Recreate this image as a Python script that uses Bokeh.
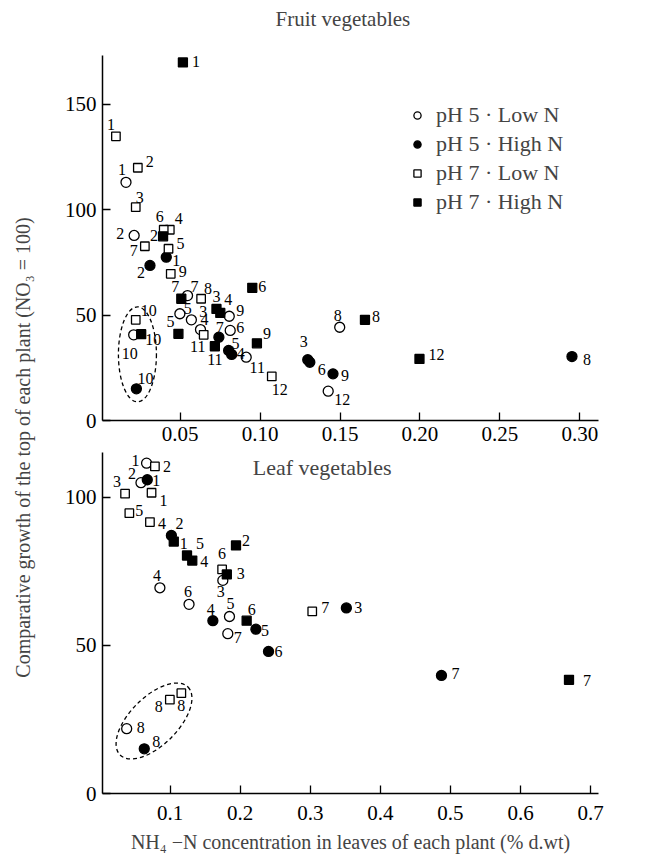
import numpy as np
from bokeh.plotting import figure
from bokeh.models import Range1d, FixedTicker, PrintfTickFormatter, Legend, LegendItem, Label
from bokeh.layouts import row, column
from bokeh.embed import file_html
from bokeh.resources import INLINE
from bokeh.core.properties import value

FONT = "Liberation Serif"

# ---------------- data: Fruit vegetables (upper panel) ----------------
fruit_p5_low_x = [0.0161, 0.0212, 0.0570, 0.0627, 0.0498, 0.0813, 0.0546, 0.1498, 0.0807, 0.0209, 0.0913, 0.1426]
fruit_p5_low_y = [112.9, 87.7, 47.7, 43.1, 50.6, 42.7, 59.2, 44.2, 49.4, 40.6, 30.0, 13.9]
fruit_p5_low_lab = ["1", "2", "3", "4", "5", "6", "7", "8", "9", "10", "11", "12"]

fruit_p5_high_x = [0.0413, 0.0311, 0.1298, 0.0822, 0.0803, 0.1311, 0.0742, 0.2951, 0.1456, 0.0226]
fruit_p5_high_y = [77.4, 73.5, 28.8, 31.3, 33.2, 27.6, 39.5, 30.3, 22.1, 15.0]
fruit_p5_high_lab = ["1", "2", "3", "4", "5", "6", "7", "8", "9", "10"]

fruit_p7_low_x = [0.0098, 0.0235, 0.0222, 0.0435, 0.0427, 0.0397, 0.0279, 0.0631, 0.0441, 0.0222, 0.0647, 0.1073]
fruit_p7_low_y = [134.7, 119.8, 101.1, 90.4, 81.4, 90.4, 82.6, 57.7, 69.5, 47.7, 40.6, 20.9]
fruit_p7_low_lab = ["1", "2", "3", "4", "5", "6", "7", "8", "9", "10", "11", "12"]

fruit_p7_high_x = [0.0517, 0.0393, 0.0727, 0.0751, 0.0489, 0.0951, 0.0507, 0.1656, 0.0980, 0.0256, 0.0717, 0.1997]
fruit_p7_high_y = [169.7, 87.3, 52.9, 51.0, 41.1, 62.9, 57.7, 47.7, 36.6, 40.9, 35.2, 29.2]
fruit_p7_high_lab = ["1", "2", "3", "4", "5", "6", "7", "8", "9", "10", "11", "12"]

# ---------------- data: Leaf vegetables (lower panel) ----------------
leaf_p5_low_x = [0.0664, 0.0584, 0.1752, 0.0854, 0.1847, 0.1270, 0.1823, 0.0380]
leaf_p5_low_y = [111.6, 105.0, 72.0, 69.5, 59.8, 63.9, 54.0, 21.9]
leaf_p5_low_lab = ["1", "2", "3", "4", "5", "6", "7", "8"]

leaf_p5_high_x = [0.0674, 0.1018, 0.3515, 0.1610, 0.2224, 0.2404, 0.4872, 0.0631]
leaf_p5_high_y = [106.0, 87.2, 62.7, 58.4, 55.5, 48.0, 39.9, 15.1]
leaf_p5_high_lab = ["1", "2", "3", "4", "5", "6", "7", "8"]

leaf_p7_low_x = [0.0735, 0.0783, 0.0357, 0.0712, 0.0418, 0.1742, 0.3028, 0.0996, 0.1160]
leaf_p7_low_y = [101.6, 110.5, 101.3, 91.7, 94.7, 75.7, 61.5, 31.7, 33.9]
leaf_p7_low_lab = ["1", "2", "3", "4", "5", "6", "7", "8", "8"]

leaf_p7_high_x = [0.1052, 0.1940, 0.1809, 0.1316, 0.1241, 0.2092, 0.6692]
leaf_p7_high_y = [85.1, 83.8, 74.0, 78.7, 80.4, 58.4, 38.4]
leaf_p7_high_lab = ["1", "2", "3", "4", "5", "6", "7"]

series_names = ["pH 5 \u00b7 Low N", "pH 5 \u00b7 High N", "pH 7 \u00b7 Low N", "pH 7 \u00b7 High N"]
top_x_ticks = [0.05, 0.10, 0.15, 0.20, 0.25, 0.30]
top_y_ticks = [0, 50, 100, 150]
bot_x_ticks = [0.1, 0.2, 0.3, 0.4, 0.5, 0.6, 0.7]
bot_y_ticks = [0, 50, 100]

# ---------------- label placement (screen px: dx right, dy down) ----------------
fruit_off = [
    [(-4, -13), (-14, -2), (12, -8), (4, -10), (8, -5), (10, -3), (7, -9), (-2, -12), (11, -6), (-4, 19), (11, 10), (14, 8)],
    [(10, 3), (-9, 7), (-4, -18), (9, -1), (7, -7), (12, 7), (1, -10), (15, 3), (12, 2), (9, -10)],
    [(-5, -12), (12, -6), (4, -10), (9, -11), (12, -5), (-4, -13), (-11, 4), (7, -10), (12, -2), (13, -9), (-6, 12), (8, 13)],
    [(13, -1), (-9, -1), (0, -12), (8, -13), (-8, -12), (10, -1), (-6, -12), (11, -3), (10, -10), (12, 5), (0, 13), (17, -4)],
]
leaf_off = [
    [(-11, -3), (-9, -9), (-2, 11), (-3, -12), (1, -13), (-1, -13), (10, 4), (14, -1)],
    [(9, 1), (8, -12), (12, 0), (-2, -11), (9, 1), (10, 0), (14, -2), (12, -7)],
    [(12, 8), (12, 0), (-8, -12), (12, 1), (10, -3), (0, -16), (13, -4), (-11, 7), (0, 12)],
    [(10, 2), (10, -5), (14, -1), (12, 1), (13, -12), (5, -11), (18, 1)],
]

markers = [("circle", "white", 10), ("circle", "black", 10), ("square", "white", 8.5), ("square", "black", 9)]


def bare_figure(w, h):
    f = figure(width=w, height=h, output_backend="svg", toolbar_location=None,
               x_range=Range1d(0, w), y_range=Range1d(0, h),
               x_axis_location=None, y_axis_location=None, min_border=0)
    f.outline_line_color = None
    f.xgrid.visible = False
    f.ygrid.visible = False
    return f


def style_axes(p, xticks, yticks, xfmt):
    p.outline_line_color = None
    p.xgrid.visible = False
    p.ygrid.visible = False
    for ax in (p.xaxis[0], p.yaxis[0]):
        ax.axis_line_width = 1.5
        ax.axis_line_color = "black"
        ax.major_tick_in = 8
        ax.major_tick_out = 0
        ax.major_tick_line_width = 1.3
        ax.minor_tick_line_color = None
        ax.major_label_text_font = FONT
        ax.major_label_text_font_size = "21px"
        ax.major_label_text_color = "black"
    p.xaxis[0].ticker = FixedTicker(ticks=xticks)
    p.yaxis[0].ticker = FixedTicker(ticks=yticks)
    p.xaxis[0].formatter = PrintfTickFormatter(format=xfmt)
    p.xaxis[0].major_label_standoff = 6
    p.yaxis[0].major_label_standoff = 6


def add_series(p, xs, ys, labs, offs):
    rends = []
    for (m, fill, sz), x, y, lab, off in zip(markers, xs, ys, labs, offs):
        r = p.scatter(x=x, y=y, marker=m, size=sz, fill_color=fill, line_color="black", line_width=1.3)
        p.text(x=x, y=y, text=lab, x_offset=[o[0] for o in off], y_offset=[o[1] for o in off],
               text_font=value(FONT), text_font_size=value("16px"), text_align="center",
               text_baseline="middle", text_color="black")
        rends.append(r)
    return rends


def add_loop(p, xs_all, ys_all, labs_all, key, w, h, ang):
    gx = [x for xs, ls in zip(xs_all, labs_all) for x, l in zip(xs, ls) if l == key]
    gy = [y for ys, ls in zip(ys_all, labs_all) for y, l in zip(ys, ls) if l == key]
    cx = (min(gx) + max(gx)) / 2
    cy = (min(gy) + max(gy)) / 2
    p.ellipse(x=[cx], y=[cy], width=w, height=h, width_units="screen", height_units="screen",
              angle=ang, fill_color=None, line_color="black", line_width=1.3, line_dash="4 3")


# ---------------- header with the upper panel's title ----------------
header = bare_figure(615, 40)
header.add_layout(Label(x=173, y=22, x_units="screen", y_units="screen", text="Fruit vegetables",
                        text_font=FONT, text_font_size="21px", text_align="left", text_baseline="middle"))

# ---------------- top panel ----------------
top = figure(width=615, height=412, output_backend="svg", toolbar_location=None,
             x_range=Range1d(0.0014, 0.3117), y_range=Range1d(0, 173),
             min_border_left=62, min_border_right=10, min_border_top=15, min_border_bottom=32)
style_axes(top, top_x_ticks, top_y_ticks, "%.2f")

fx = [fruit_p5_low_x, fruit_p5_high_x, fruit_p7_low_x, fruit_p7_high_x]
fy = [fruit_p5_low_y, fruit_p5_high_y, fruit_p7_low_y, fruit_p7_high_y]
fl = [fruit_p5_low_lab, fruit_p5_high_lab, fruit_p7_low_lab, fruit_p7_high_lab]
add_loop(top, fx, fy, fl, "10", 38, 95, 0)
trs = add_series(top, fx, fy, fl, fruit_off)

legend = Legend(items=[LegendItem(label=n, renderers=[r]) for n, r in zip(series_names, trs)],
                location=(306, 205), border_line_color=None, background_fill_alpha=0,
                label_text_font=FONT, label_text_font_size="22px", padding=0, margin=0,
                glyph_width=18, glyph_height=18, label_height=20, spacing=3, label_standoff=10)
top.add_layout(legend)

# ---------------- bottom panel ----------------
bot = figure(width=615, height=406, output_backend="svg", toolbar_location=None,
             x_range=Range1d(0.0035, 0.7113), y_range=Range1d(0, 115.2),
             min_border_left=59, min_border_right=57, min_border_top=0, min_border_bottom=65)
style_axes(bot, bot_x_ticks, bot_y_ticks, "%.1f")
bot.xaxis[0].major_label_standoff = 12
bot.xaxis[0].axis_label = "NH\u2084 \u2212N concentration in leaves of each plant (% d.wt)"
bot.xaxis[0].axis_label_text_font = FONT
bot.xaxis[0].axis_label_text_font_size = "20px"
bot.xaxis[0].axis_label_text_font_style = "normal"
bot.xaxis[0].axis_label_standoff = 8

lx = [leaf_p5_low_x, leaf_p5_high_x, leaf_p7_low_x, leaf_p7_high_x]
ly = [leaf_p5_low_y, leaf_p5_high_y, leaf_p7_low_y, leaf_p7_high_y]
ll = [leaf_p5_low_lab, leaf_p5_high_lab, leaf_p7_low_lab, leaf_p7_high_lab]
add_loop(bot, lx, ly, ll, "8", 96, 48, np.pi / 4)
add_series(bot, lx, ly, ll, leaf_off)
bot.add_layout(Label(x=0.218, y=110, text="Leaf vegetables", text_font=FONT, text_font_size="22px",
                     text_baseline="middle", text_align="left"))

# ---------------- y title column ----------------
side = bare_figure(40, 858)
side.add_layout(Label(x=22, y=411, x_units="screen", y_units="screen", angle=np.pi / 2,
                      text="Comparative growth of the top of each plant (NO\u2083 = 100)",
                      text_font=FONT, text_font_size="20px", text_align="center", text_baseline="middle"))

layout = row(side, column(header, top, bot))
open("out.html", "w").write(file_html(layout, INLINE))
